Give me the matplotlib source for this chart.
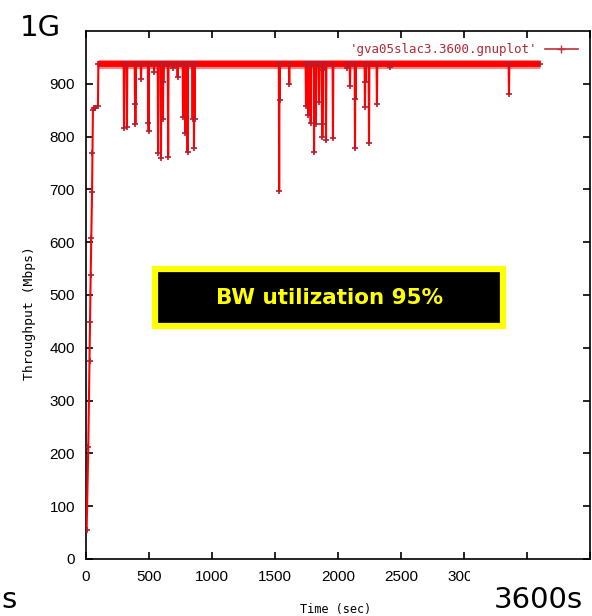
import matplotlib
matplotlib.use("Agg")
import matplotlib.pyplot as plt
from matplotlib.lines import Line2D
from matplotlib.patches import Rectangle, FancyBboxPatch

# --- data -----------------------------------------------------------------
# slow-start ramp at the beginning of the transfer (time s, Mbps)
ramp_t = [5, 18, 28, 32, 37, 42, 48, 51, 55, 60, 75, 95]
ramp_v = [55, 212, 375, 449, 538, 608, 695, 769, 850, 855, 855, 858]

# steady-state throughput level and how long it lasts
BASE = 938
BASE_START = 98
BASE_END = 3603

# throughput drops during the steady state (time s, Mbps)
dip_t = [302, 325, 389, 392, 437, 494, 497, 540, 572, 595, 611, 613, 652,
         693, 727, 770, 789, 806, 846, 857, 862, 1533, 1536, 1613, 1746,
         1763, 1783, 1810, 1825, 1849, 1873, 1876, 1883, 1905, 1960, 2071,
         2095, 2135, 2138, 2214, 2218, 2246, 2309, 2413, 3357]
dip_v = [816, 818, 862, 824, 909, 826, 811, 922, 769, 759, 833, 903, 762,
         930, 913, 838, 807, 771, 834, 778, 833, 697, 869, 900, 858,
         841, 825, 771, 824, 866, 824, 799, 926, 794, 798, 929,
         896, 778, 871, 856, 904, 788, 862, 932, 881]

x_ticks = [0, 500, 1000, 1500, 2000, 2500, 3000, 3500, 4000]
# the last two x labels sit under the "3600s" corner note
x_tick_labels = ["0", "500", "1000", "1500", "2000", "2500", "3000", "", ""]
y_ticks = [0, 100, 200, 300, 400, 500, 600, 700, 800, 900]

legend_label = "'gva05slac3.3600.gnuplot'"

# --- assemble the sampled series --------------------------------------------
times = list(ramp_t) + [BASE_START]
values = list(ramp_v) + [BASE]
for t, v in zip(dip_t, dip_v):
    times += [t - 3, t, t + 3]
    values += [BASE, v, BASE]
times.append(BASE_END)
values.append(BASE)

# --- figure -----------------------------------------------------------------
W, H = 592, 616
fig = plt.figure(figsize=(W / 100, H / 100), dpi=100)
ax = fig.add_axes([86 / W, 1 - 559 / H, (590 - 86) / W, (559 - 31) / H])

line_red = "#ff0000"
mark_red = "#c01828"

ax.hlines(BASE, BASE_START, BASE_END, color="#ff8080", lw=6.5, zorder=1)
ax.hlines(BASE, BASE_START, BASE_END, color=line_red, lw=4.2, zorder=2)
ax.plot(times, values, color=line_red, lw=1.5, zorder=3,
        marker="+", markersize=5, markeredgecolor=mark_red,
        markeredgewidth=1.2)

ax.set_xlim(0, 4000)
ax.set_ylim(0, 1000)
ax.set_xticks(x_ticks)
ax.set_yticks(y_ticks)
tick_font = {"family": ["Liberation Sans", "DejaVu Sans"], "size": 11}
ax.set_xticklabels(x_tick_labels, fontdict=tick_font)
ax.set_yticklabels([str(v) for v in y_ticks], fontdict=tick_font)
ax.tick_params(direction="in", length=5, width=1.2, top=True, right=True,
               pad=8, colors="black")
for s in ax.spines.values():
    s.set_linewidth(1.2)

mono = ["DejaVu Sans Mono"]
ax.set_xlabel("Time (sec)", family=mono, fontsize=8.6)
ax.xaxis.set_label_coords((336 - 86) / (590 - 86), -(603 - 559) / (559 - 31))
ax.set_ylabel("Throughput (Mbps)", family=mono, fontsize=9.4)
ax.yaxis.set_label_coords(-(86 - 36) / (590 - 86), (559 - 313) / (559 - 31))

handle = Line2D([], [], color="#c0303a", lw=1.2, marker="+", markersize=6,
                markeredgecolor="#c0303a")
leg = ax.legend([handle], [legend_label], loc="upper right", frameon=False,
                markerfirst=False, handlelength=2.6, handletextpad=0.6,
                borderaxespad=0.6, prop={"family": mono, "size": 9})
for txt in leg.get_texts():
    txt.set_color("#b02838")

# boxed annotation
box = FancyBboxPatch((155 / W, 1 - 326 / H), (503 - 155) / W, (326 - 269) / H,
                     boxstyle="square,pad=0", transform=fig.transFigure,
                     facecolor="black", edgecolor="#ffff00", linewidth=4.5,
                     zorder=6)
fig.patches.append(box)
fig.text(329 / W, 1 - 298 / H, "BW utilization 95%", color="#ffff00",
         fontsize=15.5, fontweight="bold", family="DejaVu Sans",
         ha="center", va="center", zorder=7)

# corner annotations
fig.patches.append(Rectangle((470 / W, 0), (W - 470) / W, (616 - 570) / H,
                             transform=fig.transFigure, facecolor="white",
                             edgecolor="none", zorder=5))
fig.text(20 / W, 1 - 28 / H, "1G", fontsize=21, family="DejaVu Sans",
         ha="left", va="center", zorder=7)
fig.text(494 / W, 1 - 600 / H, "3600s", fontsize=21, family="DejaVu Sans",
         ha="left", va="center", zorder=7)
fig.text(1 / W, 1 - 600 / H, "s", fontsize=21, family="DejaVu Sans",
         ha="left", va="center", zorder=7)

fig.savefig("out.png", dpi=100)
